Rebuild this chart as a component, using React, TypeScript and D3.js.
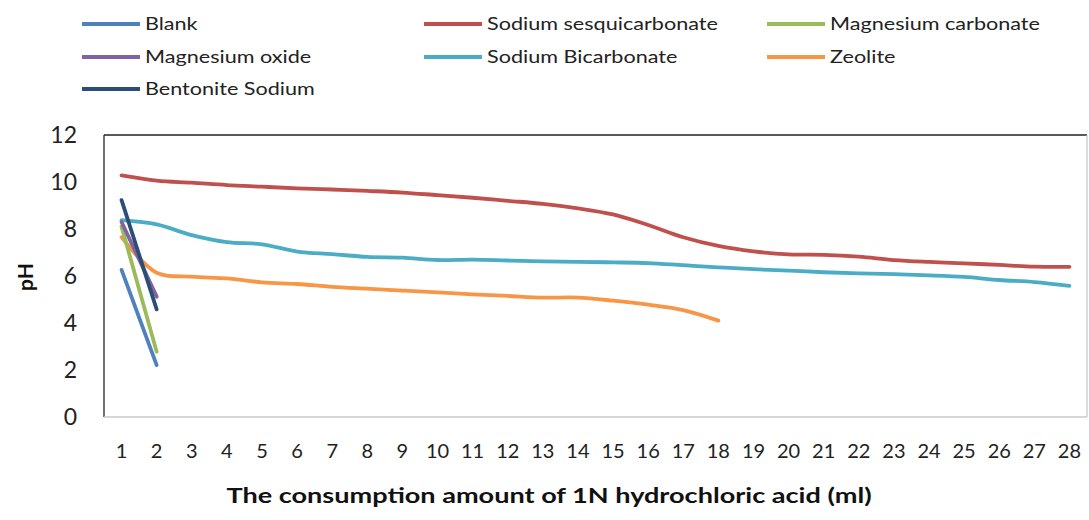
import React from "react";
import * as d3 from "d3";

const categories: number[] = d3.range(1, 29);
const yTicks: number[] = [0, 2, 4, 6, 8, 10, 12];

const blank: number[] = [6.26, 2.21];
const sodiumSesqui: number[] = [10.28, 10.06, 9.97, 9.87, 9.8, 9.73, 9.68, 9.62, 9.55, 9.44, 9.33, 9.2, 9.07, 8.88, 8.62, 8.17, 7.65, 7.28, 7.05, 6.92, 6.9, 6.82, 6.68, 6.6, 6.54, 6.47, 6.4, 6.39];
const magnesiumCarbonate: number[] = [8.1, 2.78];
const magnesiumOxide: number[] = [8.3, 5.12];
const sodiumBicarb: number[] = [8.38, 8.2, 7.74, 7.44, 7.35, 7.04, 6.93, 6.81, 6.78, 6.68, 6.7, 6.66, 6.62, 6.6, 6.58, 6.55, 6.46, 6.37, 6.29, 6.23, 6.16, 6.11, 6.08, 6.03, 5.96, 5.83, 5.74, 5.58];
const zeolite: number[] = [7.65, 6.14, 5.97, 5.9, 5.73, 5.66, 5.54, 5.46, 5.38, 5.3, 5.22, 5.15, 5.08, 5.08, 4.95, 4.78, 4.55, 4.1];
const bentonite: number[] = [9.23, 4.58];

const seriesNames: string[] = ["Blank", "Sodium sesquicarbonate", "Magnesium carbonate", "Magnesium oxide", "Sodium Bicarbonate", "Zeolite", "Bentonite Sodium"];
const seriesValues: number[][] = [blank, sodiumSesqui, magnesiumCarbonate, magnesiumOxide, sodiumBicarb, zeolite, bentonite];
const seriesColors: string[] = ["#4F81BD", "#C0504D", "#9BBB59", "#8064A2", "#4BACC6", "#F79646", "#2C4D75"];
const drawOrder: number[] = [1, 4, 5, 0, 2, 3, 6];

const W = 1089;
const H = 520;
const left = 104;
const right = 1087;
const top = 135;
const bottom = 417;

const font = "Lato, 'Open Sans', sans-serif";

export default function App() {
  const x = d3.scaleBand<number>().domain(categories).range([left, right]);
  const y = d3.scaleLinear().domain([0, 12]).range([bottom, top]);
  const cx = (c: number) => (x(c) as number) + x.bandwidth() / 2;
  const line = d3
    .line<number>()
    .x((_, i) => cx(categories[i]))
    .y((d) => y(d))
    .curve(d3.curveCatmullRom);

  const legendCols = [82, 424, 767];
  const legendRows = [24, 57, 89];

  return (
    <svg width={W} height={H} style={{ position: "absolute", left: 0, top: 0, background: "#fff" }}>
      <rect x={0} y={0} width={W} height={H} fill="#fff" />
      {seriesNames.map((name, i) => {
        const lx = legendCols[i % 3];
        const ly = legendRows[Math.floor(i / 3)];
        return (
          <g key={name}>
            <line x1={lx} x2={lx + 58} y1={ly} y2={ly} stroke={seriesColors[i]} strokeWidth={4} />
            <text transform={`translate(${lx + 63},${ly}) scale(1.2,1)`} dy="0.35em" fontFamily={font} fontSize={18} fill="#222">
              {name}
            </text>
          </g>
        );
      })}
      <line x1={left} x2={right} y1={top} y2={top} stroke="#222" strokeWidth={1.3} />
      <line x1={left} x2={left} y1={top} y2={bottom} stroke="#222" strokeWidth={1.3} />
      <line x1={left} x2={right} y1={bottom} y2={bottom} stroke="#c8c8c8" strokeWidth={1.3} />
      <line x1={right} x2={right} y1={top} y2={bottom} stroke="#c8c8c8" strokeWidth={1.3} />
      {yTicks.map((t) => (
        <text key={t} x={77} y={y(t)} dy="0.35em" textAnchor="end" fontFamily={font} fontSize={23} fill="#222">
          {t}
        </text>
      ))}
      {categories.map((c) => (
        <text key={c} x={cx(c)} y={451} dy="0.35em" textAnchor="middle" fontFamily={font} fontSize={20} fill="#222">
          {c}
        </text>
      ))}
      {drawOrder.map((i) => (
        <path key={i} d={line(seriesValues[i]) || ""} fill="none" stroke={seriesColors[i]} strokeWidth={3.8} strokeLinecap="round" strokeLinejoin="round" />
      ))}
      <text transform={`translate(549,496) scale(1.29,1)`} dy="0.35em" textAnchor="middle" fontFamily={font} fontSize={21} fontWeight="bold" fill="#111">
        The consumption amount of 1N hydrochloric acid (ml)
      </text>
      <text transform={`translate(26,277) rotate(-90)`} dy="0.35em" textAnchor="middle" fontFamily={font} fontSize={21} fontWeight="bold" fill="#111">
        pH
      </text>
    </svg>
  );
}
